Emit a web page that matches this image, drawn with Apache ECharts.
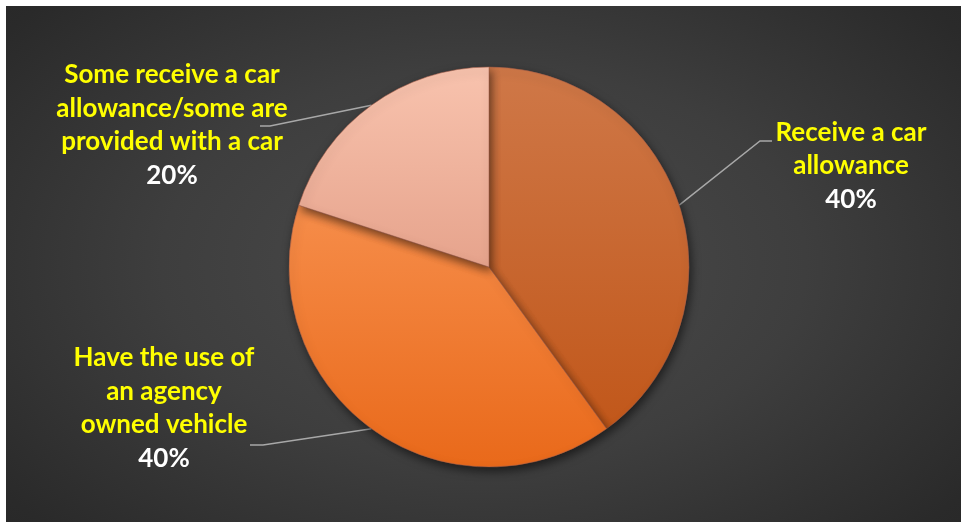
<!DOCTYPE html>
<html>
<head>
<meta charset="utf-8">
<script src="https://cdn.jsdelivr.net/npm/echarts@6/dist/echarts.min.js"></script>
<style>
  html, body { margin: 0; padding: 0; background: #ffffff; width: 961px; height: 522px; overflow: hidden; }
  #chart {
    position: absolute; left: 6px; top: 6px; width: 955px; height: 516px;
    background: radial-gradient(ellipse 75% 85% at 50% 50%, #4c4c4c 0%, #3e3e3e 45%, #2a2a2a 85%, #262626 100%);
  }
</style>
</head>
<body>
<div id="chart"></div>
<script>
// ---- data ----
var categories = [
  'Receive a car\nallowance',
  'Have the use of\nan agency\nowned vehicle',
  'Some receive a car\nallowance/some are\nprovided with a car'
];
var values = [40, 40, 20];

// ---- styling / layout ----
var sliceColors = [
  ['#cf7848', '#c1571a'],
  ['#f68d4a', '#e9691a'],
  ['#f8c3ae', '#e6a38c']
];
// label block centers and leader-line elbow/end points (chart coords)
var labelPlaces = [
  { x: 845, y: 160, elbow: [754, 135], end: [766, 135] },
  { x: 158, y: 402, elbow: [257, 439], end: [244, 439] },
  { x: 166, y: 119, elbow: [264, 120], end: [254, 120] }
];

var chart = echarts.init(document.getElementById('chart'), null, { renderer: 'canvas' });

var data = categories.map(function (name, i) {
  return {
    name: name,
    value: values[i],
    itemStyle: {
      color: {
        type: 'linear', x: 0, y: 0, x2: 0, y2: 1,
        colorStops: [
          { offset: 0, color: sliceColors[i][0] },
          { offset: 1, color: sliceColors[i][1] }
        ]
      }
    }
  };
});

var total = values.reduce(function (a, b) { return a + b; }, 0);

chart.setOption({
  backgroundColor: 'transparent',
  animation: false,
  series: [{
    type: 'pie',
    center: [483, 261],
    radius: 200,
    startAngle: 90,
    clockwise: true,
    avoidLabelOverlap: false,
    data: data,
    itemStyle: {
      borderColor: 'rgba(165,95,75,0.55)',
      borderWidth: 1,
      shadowBlur: 10,
      shadowOffsetX: 2,
      shadowOffsetY: 4,
      shadowColor: 'rgba(0,0,0,0.55)'
    },
    label: {
      show: true,
      position: 'outside',
      formatter: function (p) {
        var lines = p.name.split('\n').map(function (l) { return '{n|' + l + '}'; });
        lines.push('{p|' + Math.round(p.value / total * 100) + '%}');
        return lines.join('\n');
      },
      rich: {
        n: { color: '#ffff00', fontFamily: 'Lato', fontWeight: 'bold', fontSize: 26, lineHeight: 33.5, align: 'center' },
        p: { color: '#ffffff', fontFamily: 'Lato', fontWeight: 'bold', fontSize: 26, lineHeight: 33.5, align: 'center' }
      }
    },
    labelLine: {
      show: true,
      length: 20,
      length2: 10,
      lineStyle: { color: '#a8a8a8', width: 1.5 }
    },
    labelLayout: function (params) {
      var pl = labelPlaces[params.dataIndex];
      var start = params.labelLinePoints ? params.labelLinePoints[0] : [0, 0];
      return {
        x: pl.x,
        y: pl.y,
        align: 'center',
        verticalAlign: 'middle',
        labelLinePoints: [start, pl.elbow, pl.end]
      };
    }
  }]
});
</script>
</body>
</html>
